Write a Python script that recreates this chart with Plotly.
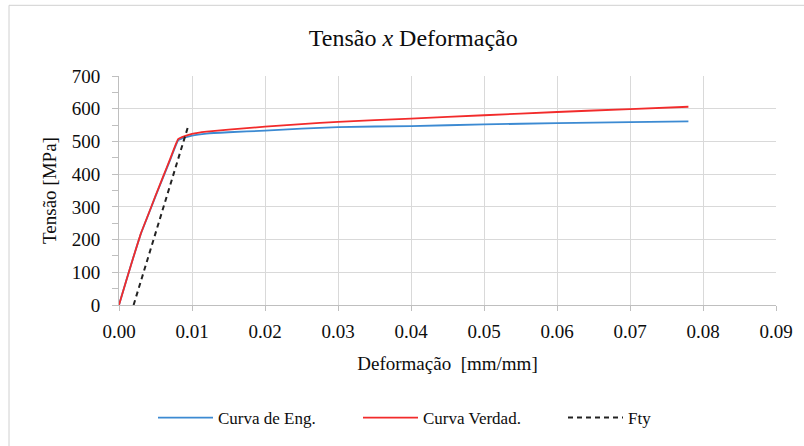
import plotly.graph_objects as go

# Data
strain = [0, 0.001, 0.002, 0.003, 0.004, 0.005, 0.006, 0.007, 0.0081, 0.009, 0.01,
          0.012, 0.015, 0.02, 0.025, 0.03, 0.04, 0.05, 0.06, 0.07, 0.078]
stress_eng = [0, 75, 148, 218, 275, 332, 388, 443, 503, 512, 518,
              524, 528, 533, 539, 544, 547, 552, 556, 559, 561]
stress_true = [0, 75, 148, 219, 276, 334, 390, 446, 507, 516, 523,
               530, 536, 545, 553, 560, 570, 580, 590, 599, 606]
fty_strain = [0.002, 0.0094]
fty_stress = [0, 541]

x_ticks = [0.00, 0.01, 0.02, 0.03, 0.04, 0.05, 0.06, 0.07, 0.08, 0.09]
x_ticktext = ["0.00", "0.01", "0.02", "0.03", "0.04", "0.05", "0.06", "0.07", "0.08", "0.09"]
y_ticks = [0, 100, 200, 300, 400, 500, 600, 700]

SERIF = "Liberation Serif"
TXT = "#0d0d0d"
GRID = "#D9D9D9"

fig = go.Figure()
fig.add_trace(go.Scatter(x=strain, y=stress_eng, mode="lines", name="Curva de Eng.",
                         line=dict(color="#3C8AD2", width=1.8, shape="spline", smoothing=0.3)))
fig.add_trace(go.Scatter(x=strain, y=stress_true, mode="lines", name="Curva Verdad.",
                         line=dict(color="#F22B2B", width=1.8, shape="spline", smoothing=0.3)))
fig.add_trace(go.Scatter(x=fty_strain, y=fty_stress, mode="lines", name="Fty",
                         line=dict(color="#222222", width=2, dash="5px,4px")))

L, R, T, B = 119, 28, 76, 140
W, H = 804, 446
pw = W - L - R
ph = H - T - B

def px_x(px):
    return (px - L) / pw

def px_y(py):
    return (H - B - py) / ph

fig.update_layout(
    width=W, height=H,
    margin=dict(l=L, r=R, t=T, b=B),
    paper_bgcolor="white", plot_bgcolor="white",
    font=dict(family=SERIF, color=TXT, size=17),
    title=dict(text="Tensão <i>x</i> Deformação", x=0.514, xref="container",
               xanchor="center", y=1 - 38 / H, yanchor="middle",
               font=dict(family=SERIF, size=24, color=TXT)),
    showlegend=True,
    legend=dict(orientation="h", x=px_x(153), xanchor="left", y=px_y(418), yanchor="middle",
                font=dict(family=SERIF, size=17, color=TXT), itemwidth=55,
                entrywidth=135, entrywidthmode="pixels",
                traceorder="normal", tracegroupgap=0),
    xaxis=dict(range=[0, 0.09], tickvals=x_ticks, ticktext=x_ticktext,
               showgrid=True, gridcolor=GRID, gridwidth=1,
               showline=True, linecolor="#BFBFBF", linewidth=1,
               ticks="outside", ticklen=5, tickcolor="#BFBFBF",
               ticklabelstandoff=4,
               tickfont=dict(family=SERIF, size=19, color=TXT),
               zeroline=False,
               title=dict(text="Deformação  [mm/mm]", standoff=15,
                          font=dict(family=SERIF, size=19, color=TXT))),
    yaxis=dict(range=[0, 700], tickvals=y_ticks,
               showgrid=True, gridcolor=GRID, gridwidth=1,
               showline=True, linecolor="#BFBFBF", linewidth=1,
               ticks="outside", ticklen=6, tickcolor="#BFBFBF",
               ticklabelstandoff=8,
               tickfont=dict(family=SERIF, size=19, color=TXT),
               zeroline=False,
               minor=dict(dtick=50, ticks="outside", ticklen=6, tickcolor="#BFBFBF", showgrid=False),
               title=dict(text="Tensão [MPa]", standoff=10,
                          font=dict(family=SERIF, size=19, color=TXT))),
    shapes=[
        dict(type="line", xref="paper", yref="paper", x0=px_x(9), x1=px_x(W + 5),
             y0=px_y(5), y1=px_y(5), line=dict(color="#D0D0D0", width=1)),
        dict(type="line", xref="paper", yref="paper", x0=px_x(9), x1=px_x(9),
             y0=px_y(5), y1=px_y(H + 5), line=dict(color="#D0D0D0", width=1)),
    ],
)

fig.write_html("out.html")
